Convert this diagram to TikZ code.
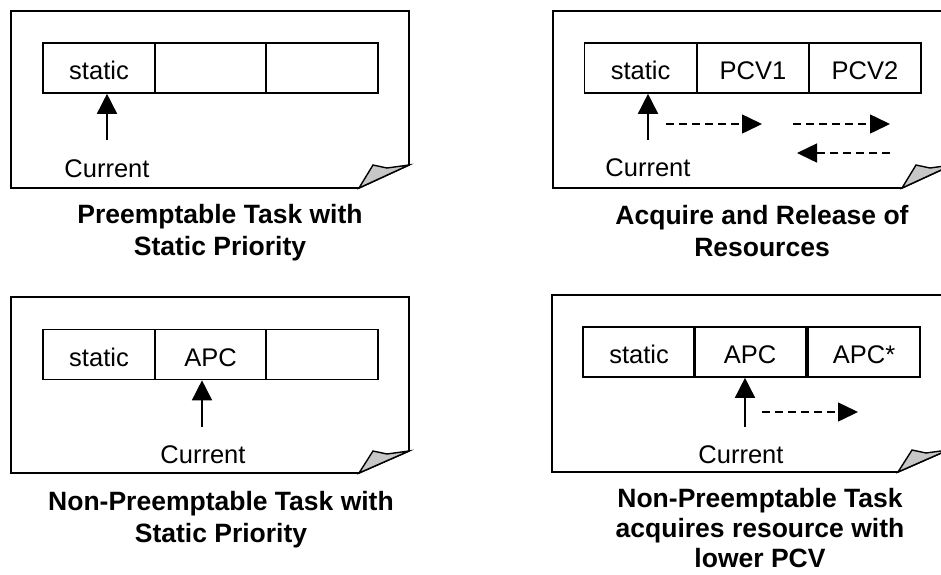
\documentclass[tikz,border=0pt]{standalone}
\usepackage{fontspec}
\setmainfont{Liberation Sans}
\usetikzlibrary{arrows.meta}
\tikzset{
  x=1pt, y=-1pt,
  pageshape/.style={draw=black, line width=1.6pt, fill=white, line join=miter},
  foldshape/.style={draw=black, line width=1.4pt, fill=black!22, line join=miter},
  cell/.style={draw=black, line width=1.6pt, minimum width=112pt, minimum height=50pt,
    inner sep=0pt, text height=23pt, text depth=0pt, font=\fontsize{25.5}{30}\selectfont},
  curlabel/.style={anchor=base, inner sep=0pt, font=\fontsize{25.5}{30}\selectfont},
  ptr/.style={line width=1.6pt, -{Triangle[length=20pt,width=20pt]}},
  dptr/.style={line width=1.5pt, dash pattern=on 8pt off 5pt, -{Triangle[length=20pt,width=19pt]}},
  caption/.style={align=center, inner sep=0pt, font=\fontsize{26.5}{32}\selectfont\bfseries}
}
\begin{document}
\begin{tikzpicture}
\useasboundingbox (0,0) rectangle (941,574);
\clip (0,0) rectangle (941,574);

% ---------- Panel 1 ----------
\draw[pageshape] (11,11) -- (409,11) -- (409,165) -- (359,188) -- (11,188) -- cycle;
\draw[foldshape] (359,188) -- (373,165) -- (387,168) -- (409,165) -- cycle;
\node[cell] (a1) at (99,68) {static};
\node[cell] (a2) at (210.5,68) {};
\node[cell] (a3) at (322,68) {};
\node[curlabel] (acur) at (107,177) {Current};
\coordinate (atail) at (107,140);
\draw[ptr] (atail) -- (atail |- a1.south);
\node[caption] (acap) at (220,233) {Preemptable Task with\\Static Priority};

% ---------- Panel 2 ----------
\draw[pageshape] (553,11) -- (952,11) -- (952,165) -- (902,188) -- (553,188) -- cycle;
\draw[foldshape] (902,188) -- (916,165) -- (930,168) -- (952,165) -- cycle;
\node[cell] (b1) at (640.5,68) {static};
\node[cell] (b2) at (753,68) {PCV1};
\node[cell] (b3) at (865,68) {PCV2};
\node[curlabel] (bcur) at (648,176) {Current};
\coordinate (btail) at (648,140);
\draw[ptr] (btail) -- (btail |- b1.south);
\coordinate (bd1s) at (666,124);
\coordinate (bd1e) at (762,124);
\coordinate (bd2s) at (793,124);
\coordinate (bd2e) at (890,124);
\coordinate (bd3s) at (890,153);
\coordinate (bd3e) at (797,153);
\draw[dptr] (bd1s) -- (bd1e);
\draw[dptr] (bd2s) -- (bd2e);
\draw[dptr] (bd3s) -- (bd3e);
\node[caption] (bcap) at (762,231) {Acquire and Release of\\Resources};

% ---------- Panel 3 ----------
\draw[pageshape] (11,297) -- (409,297) -- (409,451) -- (359,473) -- (11,473) -- cycle;
\draw[foldshape] (359,473) -- (373,451) -- (387,454) -- (409,451) -- cycle;
\node[cell] (c1) at (99,354.5) {static};
\node[cell] (c2) at (210.5,354.5) {APC};
\node[cell] (c3) at (322,354.5) {};
\node[curlabel] (ccur) at (203,463) {Current};
\coordinate (ctail) at (202,427);
\draw[ptr] (ctail) -- (ctail |- c2.south);
\node[caption] (ccap) at (221,519.5) {Non-Preemptable Task with\\Static Priority};

% ---------- Panel 4 ----------
\draw[pageshape] (552,295) -- (948,295) -- (948,450) -- (898,472) -- (552,472) -- cycle;
\draw[foldshape] (898,472) -- (912,450) -- (926,453) -- (948,450) -- cycle;
\node[cell] (d1) at (639,352) {static};
\node[cell] (d2) at (750,352) {APC};
\node[cell] (d3) at (864,352) {APC*};
\node[curlabel] (dcur) at (741,463) {Current};
\coordinate (dtail) at (745,427);
\draw[ptr] (dtail) -- (dtail |- d2.south);
\coordinate (dd1s) at (762,412);
\coordinate (dd1e) at (858,412);
\draw[dptr] (dd1s) -- (dd1e);
\node[caption, font=\fontsize{26.5}{30}\selectfont\bfseries] (dcap) at (760,528) {Non-Preemptable Task\\acquires resource with\\lower PCV};
\end{tikzpicture}
\end{document}
